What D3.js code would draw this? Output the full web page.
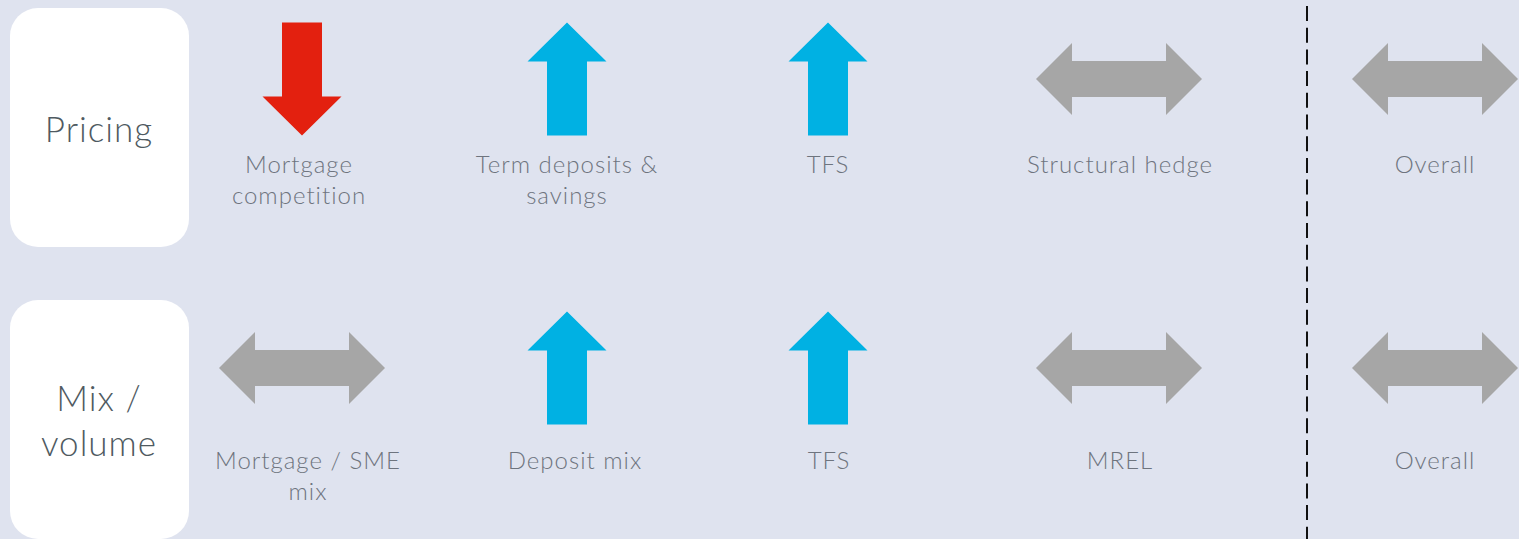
<!DOCTYPE html>
<html>
<head>
<meta charset="utf-8">
<script src="https://cdn.jsdelivr.net/npm/d3@7"></script>
<style>
  html, body { margin: 0; padding: 0; background: #dfe3ef; }
  svg { display: block; }
</style>
</head>
<body>
<div id="main"></div>
<script>
// Data
const rowTitles = [["Pricing"], ["Mix /", "volume"]];
const columns = ["c1", "c2", "c3", "c4", "overall"];

const pricingLabels = [["Mortgage", "competition"], ["Term deposits &", "savings"], ["TFS"], ["Structural hedge"], ["Overall"]];
const pricingDirections = ["down", "up", "up", "flat", "flat"];

const mixLabels = [["Mortgage / SME", "mix"], ["Deposit mix"], ["TFS"], ["MREL"], ["Overall"]];
const mixDirections = ["flat", "up", "up", "flat", "flat"];

// Layout config
const width = 1519;
const height = 539;
const colCenters = [302, 567, 828, 1119, 1435];
const rowArrowY = [79, 368];
const rowLabelY = [173, 469];
const rowLabelShift = [[-3, 0, 0, 1, 0], [6, 8, 1, 1, 0]];
const rowBoxY = [8, 300];
const boxHeight = 239;
const separatorX = 1307;

const x = d3.scaleOrdinal().domain(columns).range(colCenters);
const color = d3.scaleOrdinal()
  .domain(["up", "down", "flat"])
  .range(["#00b1e3", "#e3200f", "#a6a6a6"]);

// Arrow shapes, relative to the centre
function arrowPath(dir) {
  const p = d3.path();
  if (dir === "flat") {
    const w = 83, hl = 36, hh = 36, sh = 18;
    p.moveTo(-w, 0);
    p.lineTo(-w + hl, -hh);
    p.lineTo(-w + hl, -sh);
    p.lineTo(w - hl, -sh);
    p.lineTo(w - hl, -hh);
    p.lineTo(w, 0);
    p.lineTo(w - hl, hh);
    p.lineTo(w - hl, sh);
    p.lineTo(-w + hl, sh);
    p.lineTo(-w + hl, hh);
    p.closePath();
    return p.toString();
  }
  const s = dir === "up" ? 1 : -1;
  const h = 56.5, hl = 39, hw = 39.5, sw = 20;
  p.moveTo(0, -h * s);
  p.lineTo(hw, (-h + hl) * s);
  p.lineTo(sw, (-h + hl) * s);
  p.lineTo(sw, h * s);
  p.lineTo(-sw, h * s);
  p.lineTo(-sw, (-h + hl) * s);
  p.lineTo(-hw, (-h + hl) * s);
  p.closePath();
  return p.toString();
}

const svg = d3.select("#main").append("svg")
  .attr("width", width)
  .attr("height", height);

svg.append("rect")
  .attr("width", width)
  .attr("height", height)
  .attr("fill", "#dfe3ef");

// Dashed separator before "Overall"
svg.append("line")
  .attr("x1", separatorX)
  .attr("x2", separatorX)
  .attr("y1", 6)
  .attr("y2", height)
  .attr("stroke", "#111")
  .attr("stroke-width", 2)
  .attr("stroke-dasharray", "15,6.7");

const rows = [
  { title: rowTitles[0], labels: pricingLabels, dirs: pricingDirections },
  { title: rowTitles[1], labels: mixLabels, dirs: mixDirections },
];

rows.forEach((row, i) => {
  const g = svg.append("g");

  // Title box
  g.append("rect")
    .attr("x", 10)
    .attr("y", rowBoxY[i])
    .attr("width", 179)
    .attr("height", boxHeight)
    .attr("rx", 28)
    .attr("fill", "#ffffff");

  const midY = rowBoxY[i] + boxHeight / 2;
  const lh = 45;
  g.append("text")
    .attr("x", 99)
    .attr("y", midY + 14 - ((row.title.length - 1) * lh) / 2)
    .attr("text-anchor", "middle")
    .attr("font-family", "Lato, sans-serif")
    .attr("font-weight", 300)
    .attr("font-size", 35)
    .attr("letter-spacing", 1)
    .attr("fill", "#4f5a61")
    .selectAll("tspan")
    .data(row.title)
    .join("tspan")
    .attr("x", 99)
    .attr("dy", (d, j) => (j === 0 ? 0 : lh))
    .text((d) => d);

  const items = columns.map((c, j) => ({
    col: c,
    dir: row.dirs[j],
    label: row.labels[j],
    shift: rowLabelShift[i][j],
  }));

  g.selectAll("path.arrow")
    .data(items)
    .join("path")
    .attr("class", "arrow")
    .attr("transform", (d) => `translate(${x(d.col)},${rowArrowY[i]})`)
    .attr("d", (d) => arrowPath(d.dir))
    .attr("fill", (d) => color(d.dir));

  g.selectAll("text.label")
    .data(items)
    .join("text")
    .attr("class", "label")
    .attr("text-anchor", "middle")
    .attr("font-family", "Lato, sans-serif")
    .attr("font-weight", 300)
    .attr("font-size", 24)
    .attr("letter-spacing", 1)
    .attr("fill", "#6e747e")
    .attr("y", rowLabelY[i])
    .selectAll("tspan")
    .data((d) => d.label.map((t) => ({ t, cx: x(d.col) + d.shift })))
    .join("tspan")
    .attr("x", (d) => d.cx)
    .attr("dy", (d, j) => (j === 0 ? 0 : 31))
    .text((d) => d.t);
});
</script>
</body>
</html>
